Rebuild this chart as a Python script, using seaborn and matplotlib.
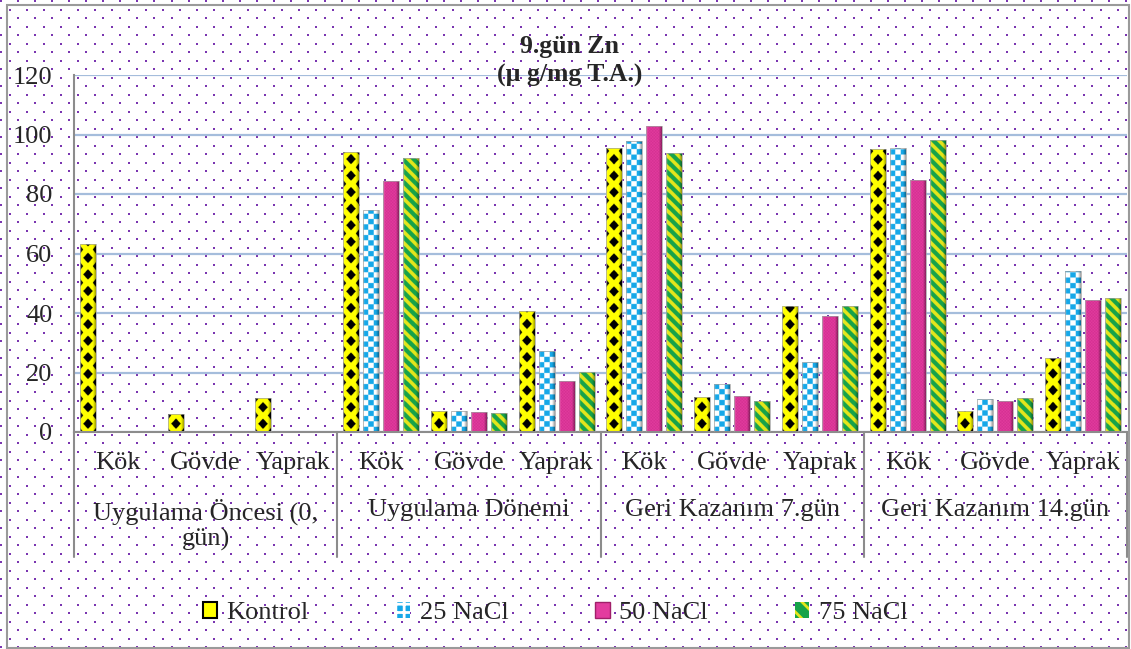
import numpy as np
import pandas as pd
import matplotlib
matplotlib.use("Agg")
import matplotlib.pyplot as plt
import matplotlib.transforms as mtransforms
from matplotlib.patches import Patch, Rectangle
import seaborn as sns

# ---- data -------------------------------------------------------------
periods = ["Uygulama Öncesi (0,\ngün)", "Uygulama Dönemi",
           "Geri Kazanım 7.gün", "Geri Kazanım 14.gün"]
organs = ["Kök", "Gövde", "Yaprak"]
series = ["Kontrol", "25 NaCl", "50 NaCl", "75 NaCl"]

kontrol = [63.2, 6.0, 11.4, 94.2, 7.1, 40.7, 95.6, 11.9, 42.2, 95.0, 7.1, 24.9]
nacl25 = [0.0, 0.0, 0.0, 74.6, 7.0, 27.3, 97.9, 16.0, 23.4, 95.6, 11.2, 54.1]
nacl50 = [0.0, 0.0, 0.0, 84.4, 6.7, 17.0, 103.0, 12.2, 39.1, 84.7, 10.4, 44.4]
nacl75 = [0.0, 0.0, 0.0, 92.2, 6.3, 20.3, 93.7, 10.5, 42.3, 98.2, 11.5, 44.9]

yticks = [0, 20, 40, 60, 80, 100, 120]
title = "9.gün Zn\n(µ g/mg T.A.)"

# ---- style ------------------------------------------------------------
sns.set_style("white")
plt.rcParams["font.family"] = ["Liberation Serif", "DejaVu Serif"]
plt.rcParams["hatch.linewidth"] = 2.0

YELLOW = np.array([1.0, 1.0, 0.0])
BLACK = np.array([0.0, 0.0, 0.0])
CYAN = np.array([0x16, 0xA8, 0xE8]) / 255
WHITE = np.array([1.0, 1.0, 1.0])
MAGENTA = np.array([0xE3, 0x3C, 0x9F]) / 255
MAGENTA_D = np.array([0xD3, 0x30, 0x91]) / 255
GREEN = np.array([0x17, 0xA3, 0x4A]) / 255
STRIPE = np.array([0xE4, 0xE6, 0x1C]) / 255
base_colors = {"Kontrol": "#FFFF00", "25 NaCl": "#16A8E8",
               "50 NaCl": "#E33C9F", "75 NaCl": "#17A34A"}

slots = [f"{p}|{o}" for p in periods for o in organs]
slot_labels = [o for p in periods for o in organs]
df = pd.DataFrame({
    "slot": slots * len(series),
    "series": np.repeat(series, len(slots)),
    "value": kontrol + nacl25 + nacl50 + nacl75,
})

W, H = 1131, 649
fig = plt.figure(figsize=(W / 100, H / 100), dpi=100)
fig.patch.set_facecolor("white")

# dotted chart background
bg = fig.add_axes([0, 0, 1, 1], zorder=-5)
bg.set_xlim(0, W)
bg.set_ylim(H, 0)
bg.axis("off")
xs, ys = [], []
for j in range(int(H / 8.5) + 2):
    x = np.arange(1 + 8.5 * (j % 2), W + 2, 17.05)
    xs.append(x)
    ys.append(np.full_like(x, 1 + 8.5 * j))
bg.scatter(np.concatenate(xs), np.concatenate(ys), s=2.2, marker="s",
           c="#7a35b0", linewidths=0)

# outer chart border
fig.add_artist(Rectangle((7 / W, 1 / H), (1129 - 7) / W, (644 - 1) / H,
                         transform=fig.transFigure, fill=False,
                         edgecolor="#9a9a9a", lw=1.5))

# ---- plot area --------------------------------------------------------
ax = fig.add_axes([74 / W, 1 - 432 / H, (1127 - 74) / W, (432 - 75) / H])
ax.set_facecolor("none")
sns.barplot(data=df, x="slot", y="value", hue="series", order=slots,
            hue_order=series, palette=base_colors, width=0.91, gap=0.2,
            errorbar=None, legend=False, linewidth=0, ax=ax)
ax.set_xlim(-0.5, len(slots) - 0.5)
ax.set_ylim(0, 120)
ax.set_autoscale_on(False)
ax.set_xlabel("")
ax.set_ylabel("")
ax.set_yticks(yticks)
ax.yaxis.grid(True, color="#A5BDDC", lw=1.6)
ax.xaxis.grid(False)
ax.set_axisbelow(True)
for s in ("top", "right"):
    ax.spines[s].set_visible(False)
for s in ("left", "bottom"):
    ax.spines[s].set_color("#8c8c8c")
    ax.spines[s].set_linewidth(1.5)
ax.tick_params(axis="y", length=0, pad=15.5, labelsize=19)
ax.tick_params(axis="x", length=0, labelbottom=False)


def bar_texture(kind, wpx, hpx, ss=4):
    nx = max(int(round(wpx * ss)), 1)
    ny = max(int(round(hpx * ss)), 1)
    u = (np.arange(nx) + 0.5) * wpx / nx
    v = (np.arange(ny) + 0.5) * hpx / ny
    U, V = np.meshgrid(u, v)
    img = np.empty((ny, nx, 3))
    if kind == 0:  # yellow with black diamond lattice
        P, a, b, ae = 16.5, 4.8, 5.2, 3.2
        m = np.mod(V, P)
        dvc = np.abs(m - P / 2)
        dve = np.minimum(m, P - m)
        duc = np.abs(U - wpx / 2)
        due = np.minimum(U, wpx - U)
        dark = (duc / a + dvc / b <= 1) | (due / ae + dve / (b * 0.8) <= 1)
        img[:] = YELLOW
        img[dark] = BLACK
    elif kind == 1:  # cyan / white checkerboard
        c = wpx / 3
        chk = (np.floor(U / c) + np.floor(V / c)) % 2 == 0
        img[:] = WHITE
        img[chk] = CYAN
    elif kind == 2:  # magenta with fine weave
        fine = (np.floor(U / 1.5) + np.floor(V / 1.5)) % 2 == 0
        img[:] = MAGENTA
        img[fine] = MAGENTA_D
    else:  # green with yellow diagonal stripes
        st = np.mod(U + V, 11.0) < 5.0
        img[:] = GREEN
        img[st] = STRIPE
    # rounded, cylinder-like rims
    dark_r = 0.40 * np.clip((U - (wpx - 3.0)) / 3.0, 0, 1)
    light_l = 0.35 * np.clip(1 - U / 2.0, 0, 1)
    img = img * (1 - dark_r[..., None])
    img = img * (1 - light_l[..., None]) + light_l[..., None]
    return np.clip(img, 0, 1)


p0 = ax.transData.transform((0, 0))
p1 = ax.transData.transform((1, 1))
pxx, pxy = p1[0] - p0[0], p1[1] - p0[1]

for kind, cont in enumerate(ax.containers):
    for bar in cont:
        x0, w, h = bar.get_x(), bar.get_width(), bar.get_height()
        if h <= 0:
            bar.set_visible(False)
            continue
        tex = bar_texture(kind, w * pxx, h * pxy)
        im = ax.imshow(tex, extent=(x0, x0 + w, 0, h), origin="lower",
                       aspect="auto", interpolation="antialiased", zorder=2.5)
        im.set_clip_path(bar)
        bar.set_facecolor("none")
        bar.set_edgecolor("#a0a0a0")
        bar.set_linewidth(0.5)
        bar.set_zorder(3)

ax.set_xlim(-0.5, len(slots) - 0.5)
ax.set_ylim(0, 120)

# two-level category axis
tr = mtransforms.blended_transform_factory(ax.transData, ax.transAxes)
ax_h = 432 - 75


def yfrac(py):
    return -(py - 432) / ax_h


for i, lab in enumerate(slot_labels):
    ax.text(i, yfrac(452), lab, ha="center", va="top", fontsize=19,
            transform=tr)
for gi, p in enumerate(periods):
    ax.text(gi * len(organs) + (len(organs) - 1) / 2, yfrac(499), p,
            ha="center", va="top", fontsize=19, transform=tr,
            linespacing=1.15)
for b in np.arange(len(periods) + 1) * len(organs) - 0.5:
    ax.plot([b, b], [0, yfrac(557)], transform=tr, clip_on=False,
            color="#8c8c8c", lw=1.5)

# legend
handles = [
    Patch(facecolor="#FFFF00", edgecolor="black", lw=1.5),
    Patch(facecolor="#16A8E8", edgecolor="white", hatch="++", lw=0),
    Patch(facecolor="#E33C9F", edgecolor="#A0206A", lw=1.0),
    Patch(facecolor="#17A34A", edgecolor="#E4E61C", hatch="\\\\", lw=0),
]
fig.legend(handles, series, loc="center", bbox_to_anchor=(555 / W, 1 - 613 / H),
           ncol=4, frameon=False, fontsize=19, handlelength=0.55,
           handleheight=0.6, handletextpad=0.35, columnspacing=3.3,
           borderaxespad=0)

fig.text(570 / W, 1 - 61 / H, title, ha="center", va="center",
         fontsize=18.5, fontweight="bold", linespacing=1.3)

fig.savefig("out.png", dpi=100)
